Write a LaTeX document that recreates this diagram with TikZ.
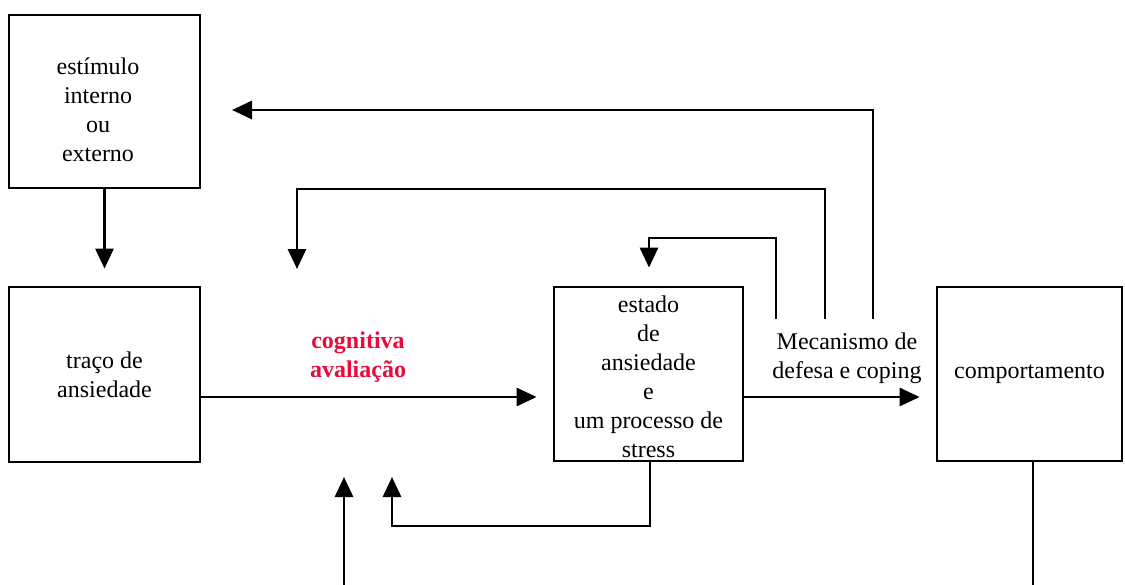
\documentclass[tikz,border=0pt]{standalone}
\usepackage{fontspec}
\setmainfont{Liberation Serif}
\usetikzlibrary{arrows.meta}
\definecolor{cogred}{RGB}{235,10,60}
\begin{document}
\begin{tikzpicture}[x=0.75pt,y=-0.75pt,
  box/.style={draw,line width=2.1pt,inner sep=0pt,align=center,font=\fontsize{18}{21.75}\selectfont},
  lbl/.style={inner sep=0pt,align=center,font=\fontsize{18}{21.75}\selectfont},
  conn/.style={line width=2.2pt},
  arr/.style={conn,-{Triangle[length=15pt,width=13.5pt]}}]
\useasboundingbox (0,0) rectangle (1125,585);
% boxes
\node[box,minimum width=143.25pt,minimum height=129.75pt] (stim) at (104.5,101.5) {};
\node[lbl] (stimtxt) at (98,110) {estímulo\\interno\\ou\\externo};
\node[box,minimum width=143.25pt,minimum height=131.25pt] (trait) at (104.5,374.5) {traço de\\ansiedade};
\node[box,minimum width=141.75pt,minimum height=130.5pt] (state) at (648.5,374) {};
\node[lbl] (statetxt) at (648.5,377) {estado\\de\\ansiedade\\e\\um processo de\\stress};
\node[box,minimum width=138.75pt,minimum height=130.5pt] (comp) at (1029.5,374) {comportamento};
% labels
\node[lbl,font=\fontsize{18}{21.75}\selectfont\bfseries,text=cogred] (cog) at (358,357) {cognitiva\\avaliação};
\node[lbl] (mec) at (847,358) {Mecanismo de\\defesa e coping};
% coordinates
\coordinate (h) at (0,397);
\coordinate (m1) at (776,319);
\coordinate (m2) at (825,319);
\coordinate (m3) at (873,319);
\coordinate (c1) at (649,238);
\coordinate (c2) at (297,189);
\coordinate (e2) at (297,269);
\coordinate (e3) at (232,110);
\coordinate (c4) at (650,526);
\coordinate (c5) at (392,526);
\coordinate (e4) at (392,477);
\coordinate (s6) at (344,585);
\coordinate (e6) at (344,477);
\coordinate (s7) at (1033,461);
\coordinate (e7) at (1033,585);
% connectors
\draw[arr,shorten >=12.75pt] (stim) -- (trait);
\draw[arr,shorten >=12pt] (trait.east |- h) -- (state.west |- h);
\draw[arr,shorten >=12pt] (state.east |- h) -- (comp.west |- h);
\draw[arr,shorten >=13.5pt] (m1) |- (c1) -- (c1 |- state.north);
\draw[arr] (m2) |- (c2) -- (e2);
\draw[arr] (m3) |- (e3);
\draw[arr] (state.south -| c4) -- (c4) -- (c5) -- (e4);
\draw[arr] (s6) -- (e6);
\draw[conn] (s7) -- (e7);
\end{tikzpicture}
\end{document}
